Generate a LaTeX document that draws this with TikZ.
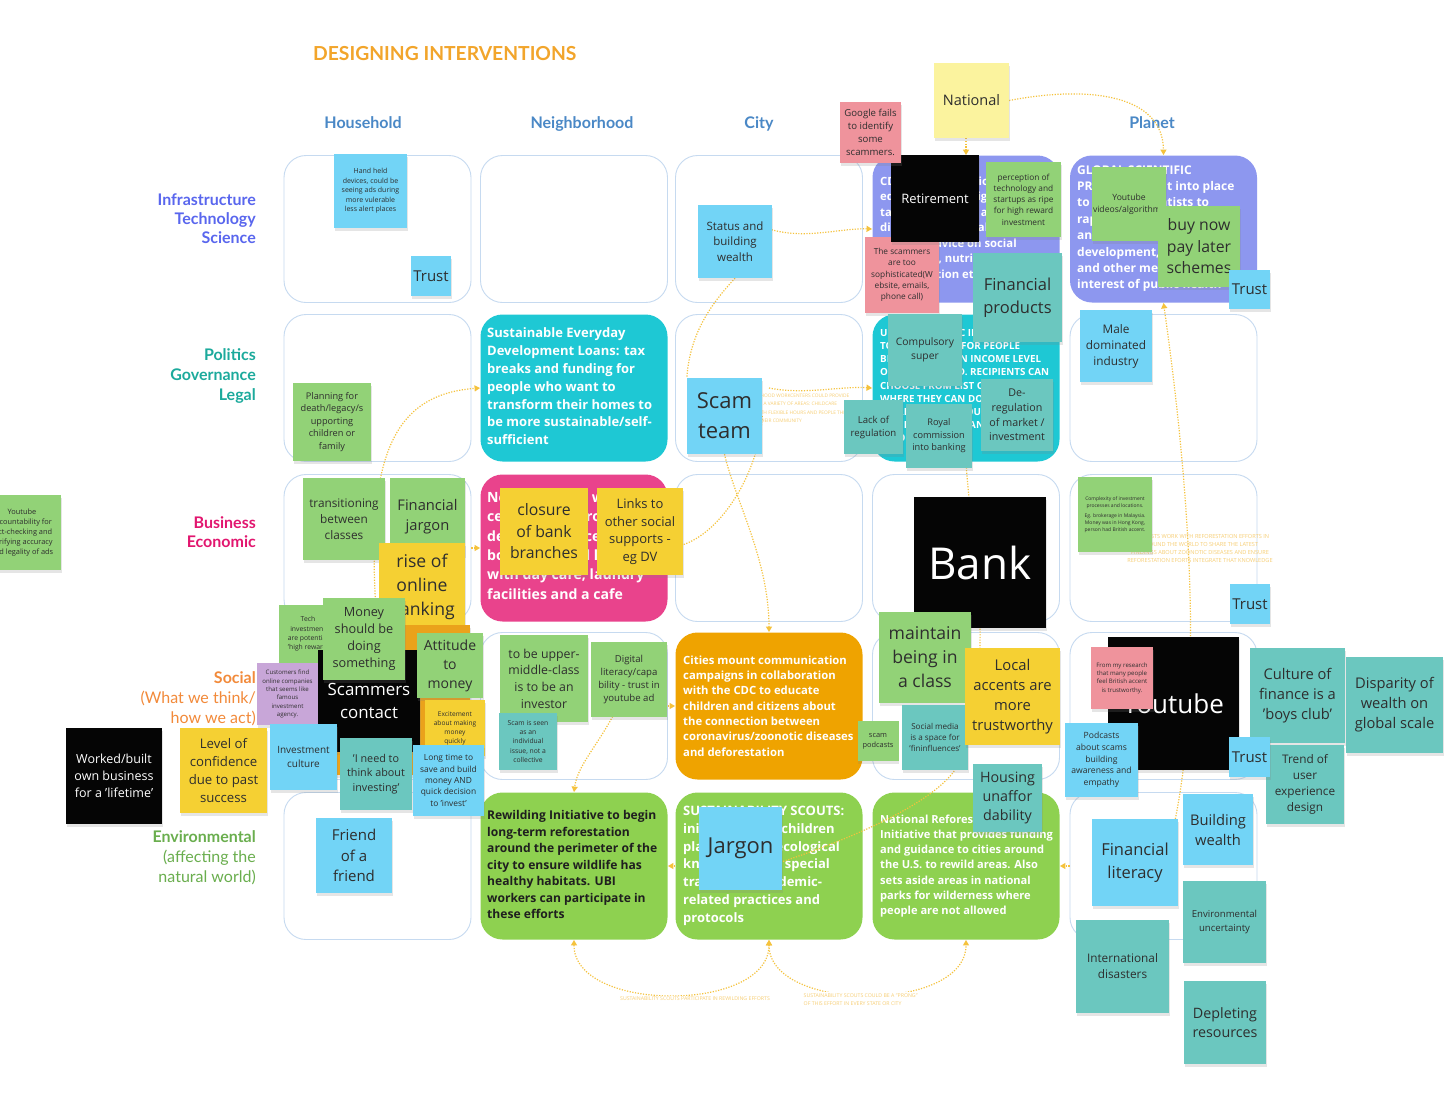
\documentclass[tikz,border=0pt]{standalone}
\usepackage{fontspec}
\setmainfont{Open Sans}
\newfontfamily\latofont{Lato}
\usetikzlibrary{arrows.meta,shadows,calc}
\definecolor{stBlue}{HTML}{72D4F6}
\definecolor{stGreen}{HTML}{92D277}
\definecolor{stTeal}{HTML}{6BC7BF}
\definecolor{stYellow}{HTML}{F5D033}
\definecolor{stPink}{HTML}{EF939C}
\definecolor{stLYellow}{HTML}{FBF39E}
\definecolor{stPurple}{HTML}{C8A6D8}
\definecolor{stOrange}{HTML}{EAA21B}
\definecolor{stBlack}{HTML}{050505}
\definecolor{cellB}{HTML}{C6DAF0}
\definecolor{cCyan}{HTML}{1EC8D4}
\definecolor{cPink}{HTML}{E9438C}
\definecolor{cOrange}{HTML}{EFA300}
\definecolor{cPeri}{HTML}{8D97EF}
\definecolor{cGreen}{HTML}{8ED150}
\definecolor{connC}{HTML}{F5C23C}
\definecolor{ghostC}{HTML}{F7CE74}
\definecolor{txt}{HTML}{2E2E2E}
\definecolor{titleC}{HTML}{F2A52B}
\definecolor{headC}{HTML}{4A88C6}
\definecolor{labInfra}{HTML}{5966EE}
\definecolor{labPol}{HTML}{1CAA9C}
\definecolor{labBus}{HTML}{E2166F}
\definecolor{labSoc}{HTML}{F28A3A}
\definecolor{labEnv}{HTML}{6AAE4E}
\pgfdeclarelayer{cells}
\pgfdeclarelayer{conns}
\pgfsetlayers{cells,conns,main}
\tikzset{
  cell/.style={rectangle, draw=cellB, line width=0.9pt, rounded corners=22pt, fill=white, minimum width=187pt, minimum height=147pt, inner sep=0},
  fcell/.style={cell, draw=none, fill=#1},
  celltext/.style={anchor=north west, inner sep=0, align=left, text=white},
  sticky/.style={rectangle, inner sep=1pt, align=center, text=txt, drop shadow={shadow xshift=0.6pt, shadow yshift=-2.8pt, opacity=0.2}},
  conn/.style={draw=connC, line width=1.2pt, dash pattern=on 1.2pt off 1.5pt, -{Triangle[length=5.5pt,width=6pt]}},
  connplain/.style={draw=connC, line width=1.2pt, dash pattern=on 1.2pt off 1.5pt},
  conntwo/.style={draw=connC, line width=1.2pt, dash pattern=on 1.2pt off 1.5pt, {Triangle[length=5.5pt,width=6pt]}-{Triangle[length=5.5pt,width=6pt]}},
  ghost/.style={text=ghostC, inner sep=0},
  lab/.style={anchor=base east, inner sep=0, font=\latofont\bfseries\fontsize{16}{19}\selectfont},
  labr/.style={anchor=base east, inner sep=0, font=\latofont\fontsize{16}{19}\selectfont},
  head/.style={anchor=base, inner sep=0, text=headC, font=\latofont\bfseries\fontsize{16}{19}\selectfont}
}
\newcommand\mystk[9][]{\node[sticky,fill=#3,minimum width=#6pt,minimum height=#7pt,font=\fontsize{#8}{\fpeval{1.36*#8}}\selectfont,#1] (#2) at (#4,#5) {#9};}
\begin{document}
\begin{tikzpicture}[x=1pt,y=-1pt]
\useasboundingbox (0,0) rectangle (1444,1104);

\begin{pgfonlayer}{cells}
\fill[white] (0,0) rectangle (1444,1104);
% title and headers
\node[anchor=west, inner sep=0, text=titleC, font=\latofont\bfseries\fontsize{19.3}{23}\selectfont] (title) at (313,54) {DESIGNING INTERVENTIONS};
\node[head] (hHouse) at (363,128.8) {Household};
\node[head] (hNeigh) at (582,128.8) {Neighborhood};
\node[head] (hCity) at (759,128.8) {City};
\node[head] (hPlanet) at (1152,128.8) {Planet};
% row labels
\node[lab, text=labInfra] (l1a) at (256,205.8) {Infrastructure};
\node[lab, text=labInfra] (l1b) at (256,224.8) {Technology};
\node[lab, text=labInfra] (l1c) at (256,243.8) {Science};
\node[lab, text=labPol] (l2a) at (256,360.8) {Politics};
\node[lab, text=labPol] (l2b) at (256,380.8) {Governance};
\node[lab, text=labPol] (l2c) at (256,400.8) {Legal};
\node[lab, text=labBus] (l3a) at (256,528.8) {Business};
\node[lab, text=labBus] (l3b) at (256,547.8) {Economic};
\node[lab, text=labSoc] (l4a) at (256,683.8) {Social};
\node[labr, text=labSoc] (l4b) at (256,703.8) {(What we think/};
\node[labr, text=labSoc] (l4c) at (256,723.8) {how we act)};
\node[lab, text=labEnv] (l5a) at (256,842.8) {Environmental};
\node[labr, text=labEnv] (l5b) at (256,862.8) {(affecting the};
\node[labr, text=labEnv] (l5c) at (256,882.8) {natural world)};
% grid cells
\node[cell] (hh1) at (377.5,229) {};
\node[cell] (hh2) at (377.5,388) {};
\node[cell] (hh3) at (377.5,548) {};
\node[cell] (hh4) at (377.5,706) {};
\node[cell] (hh5) at (377.5,866) {};
\node[cell] (nb1) at (574,229) {};
\node[fcell=cCyan] (nb2) at (574,388) {};
\node[fcell=cPink] (nb3) at (574,548) {};
\node[cell] (nb4) at (574,706) {};
\node[fcell=cGreen] (nb5) at (574,866) {};
\node[cell] (ct1) at (769,229) {};
\node[cell] (ct2) at (769,388) {};
\node[cell] (ct3) at (769,548) {};
\node[fcell=cOrange] (ct4) at (769,706) {};
\node[fcell=cGreen] (ct5) at (769,866) {};
\node[fcell=cPeri] (na1) at (966,229) {};
\node[fcell=cCyan] (na2) at (966,388) {};
\node[cell] (na3) at (966,548) {};
\node[cell] (na4) at (966,706) {};
\node[fcell=cGreen] (na5) at (966,866) {};
\node[fcell=cPeri] (pl1) at (1163.5,229) {};
\node[cell] (pl2) at (1163.5,388) {};
\node[cell] (pl3) at (1163.5,548) {};
\node[cell] (pl4) at (1163.5,706) {};
\node[cell] (pl5) at (1163.5,866) {};
% cell texts
\node[celltext, font=\bfseries\fontsize{13}{17.8}\selectfont] (nb2t) at (487,327.8) {Sustainable Everyday\\Development Loans: tax\\breaks and funding for\\people who want to\\transform their homes to\\be more sustainable/self-\\sufficient};
\node[celltext, font=\bfseries\fontsize{14.1}{19.4}\selectfont] (nb3t) at (487,491.4) {Neighborhood wellness\\centers that provide\\dedicated spaces for\\both work and leisure\\with day care, laundry\\facilities and a cafe};
\node[celltext, font=\bfseries\fontsize{11.3}{15.33}\selectfont] (ct4t) at (683,655.5) {Cities mount communication\\campaigns in collaboration\\with the CDC to educate\\children and citizens about\\the connection between\\coronavirus/zoonotic diseases\\and deforestation};
\node[celltext, text=black!88, font=\bfseries\fontsize{12.1}{16.5}\selectfont] (nb5t) at (487,810.2) {Rewilding Initiative to begin\\long-term reforestation\\around the perimeter of the\\city to ensure wildlife has\\healthy habitats. UBI\\workers can participate in\\these efforts};
\node[celltext, font=\bfseries\fontsize{13}{17.8}\selectfont] (ct5t) at (683,805.8) {SUSTAINABILITY SCOUTS:\\initiative gives children\\places to gain ecological\\knowledge and special\\training in pandemic-\\related practices and\\protocols};
\node[celltext, font=\bfseries\fontsize{11.1}{15.2}\selectfont] (na5t) at (880,814.6) {National Reforestation\\Initiative that provides funding\\and guidance to cities around\\the U.S. to rewild areas. Also\\sets aside areas in national\\parks for wilderness where\\people are not allowed};
\node[celltext, font=\bfseries\fontsize{11.3}{15.5}\selectfont] (na1t) at (880,176.5) {CDC launches national\\education campaign\\targeting citizens and\\distributing official\\offering advice on social\\distancing, nutrition,\\immunization etc.};
\node[celltext, font=\bfseries\fontsize{9.8}{13.2}\selectfont] (na2t) at (880,329) {UNIVERSAL BASIC INCOME:\\TOP-UP INCOME FOR PEOPLE\\BELOW A CERTAIN INCOME LEVEL\\OR UNEMPLOYED. RECIPIENTS CAN\\CHOOSE FROM LIST OF AREAS\\WHERE THEY CAN DO CIVIC\\WORK, E.G. CITY COUNCIL\\PROJECTS, FOOD BANKS OR\\REFORESTATION};
\node[celltext, font=\bfseries\fontsize{12}{16.4}\selectfont] (pl1t) at (1077,165.2) {GLOBAL SCIENTIFIC\\PROTOCOLS put into place\\to enable scientists to\\rapidly share data\\and research on vaccine\\development, treatments\\and other medical issues\\interest of public health};
\end{pgfonlayer}

% stickies: household
\mystk{handheld}{stBlue}{370.5}{191}{73}{74}{7}{Hand held\\devices, could be\\seeing ads during\\more vulerable\\less alert places}
\mystk{trustA}{stBlue}{431}{276}{40}{40}{15}{Trust}
\mystk{planning}{stGreen}{332}{422}{78}{78}{9.2}{Planning for\\death/legacy/s\\upporting\\children or\\family}
\mystk{transit}{stGreen}{344}{519}{82}{82}{11.8}{transitioning\\between\\classes}
\mystk{finjargon}{stGreen}{427.5}{516.5}{75}{77}{14.7}{Financial\\jargon}
\mystk{rise}{stYellow}{422}{586.5}{86}{87}{17.6}{rise of\\online\\banking}
\mystk{tech}{stGreen}{308}{634}{58}{58}{6.8}{Tech\\investment\\are potential\\'high reward'}
\mystk{customers}{stPurple}{287.5}{694}{61}{62}{6.1}{Customers find\\online companies\\that seems like\\famous\\investment\\agency.}
\node[sticky, fill=stOrange, minimum width=135pt, minimum height=150pt] (orangehid) at (402.5,700) {};
\mystk[text=white]{scammers}{stBlack}{369}{701}{102}{102}{16.9}{Scammers\\contact}
\mystk{money}{stGreen}{364}{639}{82}{82}{12.7}{Money\\should be\\doing\\something}
\mystk{attitude}{stGreen}{450}{665.5}{66}{65}{14}{Attitude\\to\\money}
\mystk{excite}{stYellow}{455}{728}{60}{56}{6.6}{Excitement\\about making\\money\\quickly}
\mystk{invcult}{stBlue}{303.5}{757}{67}{66}{10}{Investment\\culture}
\mystk{ineed}{stTeal}{376}{774}{72}{72}{10.8}{'I need to\\think about\\investing'}
\mystk{longtime}{stBlue}{448.5}{780.5}{71}{71}{8.4}{Long time to\\save and build\\money AND\\quick decision\\to 'invest'}
\mystk{confidence}{stYellow}{223.5}{770.5}{87}{85}{13.2}{Level of\\confidence\\due to past\\success}
\mystk[text=white]{worked}{stBlack}{114}{776}{96}{96}{12.5}{Worked/built\\own business\\for a 'lifetime'}
\mystk{ytacc}{stGreen}{22}{532.5}{78}{75}{7.4}{Youtube\\accountability for\\fact-checking and\\verifying accuracy\\and legality of ads}
\mystk{friend}{stBlue}{354}{855.5}{76}{75}{15}{Friend\\of a\\friend}

% neighborhood
\mystk{closure}{stYellow}{544}{531.5}{88}{87}{15.8}{closure\\of bank\\branches}
\mystk{links}{stYellow}{640}{531.5}{86}{87}{13}{Links to\\other social\\supports -\\eg DV}
\mystk{upper}{stGreen}{544}{678.5}{88}{87}{12.3}{to be upper-\\middle-class\\is to be an\\investor}
\mystk{digital}{stGreen}{629}{679.5}{76}{75}{9.6}{Digital\\literacy/capa\\bility - trust in\\youtube ad}
\mystk{scamseen}{stTeal}{528}{741.5}{58}{57}{6.8}{Scam is seen\\as an\\individual\\issue, not a\\collective}

% city
\mystk{status}{stBlue}{735}{241.5}{74}{73}{11.5}{Status and\\building\\wealth}
\mystk{scamteam}{stBlue}{724.5}{416}{75}{76}{22}{Scam\\team}
\mystk{jargon}{stBlue}{740.5}{848.5}{83}{83}{22}{Jargon}

% national
\mystk{sophis}{stPink}{902}{275}{74}{76}{8.3}{The scammers\\are too\\sophisticated(W\\ebsite, emails,\\phone call)}
\mystk[text=white]{retire}{stBlack}{935}{198.5}{88}{87}{13}{Retirement}
\mystk{google}{stPink}{870.5}{132.5}{61}{61}{9.6}{Google fails\\to identify\\some\\scammers.}
\mystk{national}{stLYellow}{971.5}{100.5}{75}{75}{14.5}{National}
\mystk{percep}{stGreen}{1023.5}{199.5}{75}{75}{8.3}{perception of\\technology and\\startups as ripe\\for high reward\\investment}
\mystk{finprod}{stTeal}{1017.5}{297.5}{89}{89}{16.5}{Financial\\products}
\mystk{compul}{stTeal}{925}{350}{74}{72}{10.3}{Compulsory\\super}
\mystk{dereg}{stTeal}{1017}{415}{72}{72}{10.7}{De-\\regulation\\of market /\\investment}
\mystk{lackreg}{stTeal}{873.5}{427}{59}{54}{9.6}{Lack of\\regulation}
\mystk{royal}{stTeal}{939}{436}{66}{64}{9.2}{Royal\\commission\\into banking}
\mystk[text=white]{bank}{stBlack}{980}{562.5}{132}{131}{44}{Bank}
\mystk{maintain}{stGreen}{925}{657.5}{92}{91}{17.6}{maintain\\being in\\a class}
\mystk{socialm}{stTeal}{935}{737.5}{66}{65}{8.1}{Social media\\is a space for\\'fininfluences'}
\mystk{local}{stYellow}{1012.5}{696.5}{95}{97}{14.8}{Local\\accents are\\more\\trustworthy}
\mystk{scampod}{stGreen}{878}{741}{41}{40}{7.4}{scam\\podcasts}
\mystk{housing}{stTeal}{1007.5}{798}{69}{68}{14.3}{Housing\\unaffor\\dability}

% planet
\mystk{ytvid}{stGreen}{1129}{204}{74}{74}{8.6}{Youtube\\videos/algorithms}
\mystk{buynow}{stGreen}{1199}{246.5}{82}{81}{15.8}{buy now\\pay later\\schemes}
\mystk{trustB}{stBlue}{1249.5}{289.5}{41}{39}{15}{Trust}
\mystk{male}{stBlue}{1116}{346}{72}{72}{11.8}{Male\\dominated\\industry}
\mystk{complex}{stGreen}{1115}{514.5}{74}{75}{5}{Complexity of investment\\processes and locations.\\[4pt]Eg. brokerage in Malaysia.\\Money was in Hong Kong,\\person had British accent.}
\mystk{trustC}{stBlue}{1250}{604}{40}{40}{15}{Trust}
\mystk[text=white]{youtube}{stBlack}{1173.5}{703.5}{131}{133}{26}{Youtube}
\mystk{research}{stPink}{1122}{678}{62}{62}{6.1}{From my research\\that many people\\feel British accent\\is trustworthy.}
\mystk{podcasts}{stBlue}{1101.5}{760}{73}{74}{8.6}{Podcasts\\about scams\\building\\awareness and\\empathy}
\mystk{culture}{stTeal}{1297.5}{695.5}{95}{95}{14.7}{Culture of\\finance is a\\'boys club'}
\mystk{disparity}{stTeal}{1394.5}{705}{97}{96}{14.7}{Disparity of\\wealth on\\global scale}
\mystk{trend}{stTeal}{1305}{784.5}{78}{79}{11.8}{Trend of\\user\\experience\\design}
\mystk{trustD}{stBlue}{1249.5}{757}{41}{40}{15}{Trust}
\mystk{building}{stBlue}{1218}{829.5}{70}{71}{14.7}{Building\\wealth}
\mystk{finlit}{stBlue}{1135}{862.5}{86}{87}{16.5}{Financial\\literacy}
\mystk{envunc}{stTeal}{1224.5}{922}{83}{82}{9.6}{Environmental\\uncertainty}
\mystk{intdis}{stTeal}{1122.5}{966.5}{93}{93}{11.8}{International\\disasters}
\mystk{deplete}{stTeal}{1225}{1022.5}{82}{83}{14.3}{Depleting\\resources}

% connectors and their labels (layer between cells and stickies)
\begin{pgfonlayer}{conns}
\draw[conn] (hh4.north) .. controls (365,470) and (385,395) .. (nb2.west);
\draw[conn] (hh3.east) -- (nb3.west);
\draw[conn] (hh4.east) -- (nb4.west);
\draw[conn] (nb4.east) -- (ct4.west);
\draw[conn] (ct5.west) -- (nb5.east);
\draw[conn] (pl5.west) -- (na5.east);
\draw[conn] (ct1.center) .. controls (805,240) and (840,228) .. (na1.west);
\draw[conn] (ct2.center) .. controls (805,395) and (840,386) .. (na2.west);
\draw[connplain] (status.south) .. controls (715,300) and (690,330) .. (scamteam.north west);
\draw[conn] (scamteam.south) .. controls (735,500) and (769,560) .. (ct4.north);
\draw[conn] (scamteam.east) .. controls (760,470) and (720,540) .. (nb3.east);
\draw[conn] (digital.center) .. controls (610,735) and (578,760) .. (nb5.north);
\draw[conn] (national.south -| na1.north) -- (na1.north);
\draw[conn] (national.east) .. controls (1090,85) and (1163,95) .. (pl1.north);
\draw[conn] (pl5.center) .. controls (1215,700) and (1180,420) .. (pl1.south);
\draw[connplain] (na2.south) .. controls (972,560) and (1000,660) .. (955,770) .. controls (930,805) and (850,840) .. (ct5.center);
\draw[conntwo] (nb5.south) .. controls (574,1013) and (769,1013) .. (ct5.south);
\draw[conntwo] (ct5.south) .. controls (769,1013) and (966,1013) .. (na5.south);
\node[ghost, anchor=north west, align=left, font=\fontsize{4.8}{8.3}\selectfont] (g1) at (736,394) {NEIGHBORHOOD WORKCENTERS COULD PROVIDE\\UBI JOBS IN A VARIETY OF AREAS: CHILDCARE\\CENTER WITH FLEXIBLE HOURS AND PEOPLE THEY\\KNOW IN THEIR COMMUNITY};
\node[ghost, align=center, font=\fontsize{5.6}{8.3}\selectfont] (g2) at (1200,548.5) {SCIENTISTS WORK WITH REFORESTATION EFFORTS IN\\AROUND THE WORLD TO SHARE THE LATEST\\FINDINGS ABOUT ZOONOTIC DISEASES AND ENSURE\\REFORESTATION EFORTS INTEGRATE THAT KNOWLEDGE};
\node[ghost, fill=white, inner sep=1.5pt, font=\fontsize{5.2}{8}\selectfont] (g3) at (695,999) {SUSTAINABILITY SCOUTS PARTICIPATE IN REWILDING EFFORTS};
\node[ghost, fill=white, inner sep=1.5pt, anchor=west, align=left, font=\fontsize{5.2}{8.5}\selectfont] (g4) at (802,999.5) {SUSTAINABILITY SCOUTS COULD BE A "PRONG"\\OF THIS EFFORT IN EVERY STATE OR CITY};
\end{pgfonlayer}
\end{tikzpicture}
\end{document}
